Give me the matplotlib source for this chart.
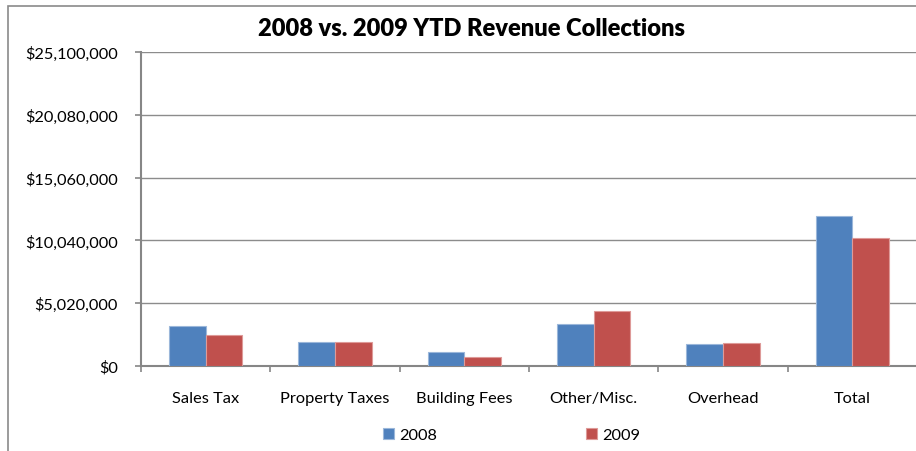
import numpy as np
import matplotlib
matplotlib.use("Agg")
import matplotlib.pyplot as plt
from matplotlib.patches import Rectangle
from matplotlib.ticker import FuncFormatter

categories = ["Sales Tax", "Property Taxes", "Building Fees", "Other/Misc.", "Overhead", "Total"]
rev_2008 = [3160000, 1870000, 1100000, 3340000, 1740000, 12020000]
rev_2009 = [2460000, 1900000, 670000, 4410000, 1790000, 10230000]
series_labels = ["2008", "2009"]
y_ticks = [0, 5020000, 10040000, 15060000, 20080000, 25100000]

BLUE = "#4F81BD"
RED = "#C0504D"
GRID = "#8C8C8C"
AXIS = "#868686"

plt.rcParams["font.family"] = ["Lato", "DejaVu Sans"]

fig = plt.figure(figsize=(9.16, 4.52), dpi=100)
ax = fig.add_axes([141 / 916, 1 - 366.7 / 452, 776 / 916, 313.4 / 452])

x = np.arange(len(categories))
w = 0.284
ax.bar(x - w / 2, rev_2008, w, color=BLUE, edgecolor="#9BB7DA", linewidth=0.8, label=series_labels[0], zorder=3)
ax.bar(x + w / 2, rev_2009, w, color=RED, edgecolor="#DE9A98", linewidth=0.8, label=series_labels[1], zorder=3)

ax.set_xlim(-0.5, len(categories) - 0.5)
ax.set_ylim(0, y_ticks[-1])
ax.set_yticks(y_ticks)
ax.yaxis.set_major_formatter(FuncFormatter(lambda v, _: f"${v:,.0f}"))
ax.grid(axis="y", color=GRID, linewidth=1.0, zorder=0)

ax.set_xticks(x)
ax.set_xticklabels(categories)
ax.set_xticks(np.arange(len(categories) + 1) - 0.5, minor=True)
ax.tick_params(axis="x", which="major", length=0, pad=18, labelsize=11.8)
ax.tick_params(axis="x", which="minor", length=4, width=1.2, color=AXIS, direction="out")
ax.tick_params(axis="y", length=4.5, width=1.2, color=AXIS, pad=12, labelsize=11.8)

for side in ["top", "right"]:
    ax.spines[side].set_visible(False)
for side in ["left", "bottom"]:
    ax.spines[side].set_color(AXIS)
    ax.spines[side].set_linewidth(1.5)

fig.text(472 / 916, 1 - 29 / 452, "2008 vs. 2009 YTD Revenue Collections",
         ha="center", va="center", fontsize=17, fontweight="heavy")

fig.legend(loc="center", bbox_to_anchor=(511.5 / 916, 1 - 436 / 452), ncol=2,
           frameon=False, fontsize=11.8, handlelength=0.7, handleheight=0.7,
           handletextpad=0.3, columnspacing=9.1, borderpad=0)

# chart frame
fig.add_artist(Rectangle((8 / 916, -0.1), 1.1, 1 - 7 / 452 + 0.1, transform=fig.transFigure,
                         fill=False, edgecolor="#8A8A8A", linewidth=1.2))

fig.savefig("out.png", dpi=100)
